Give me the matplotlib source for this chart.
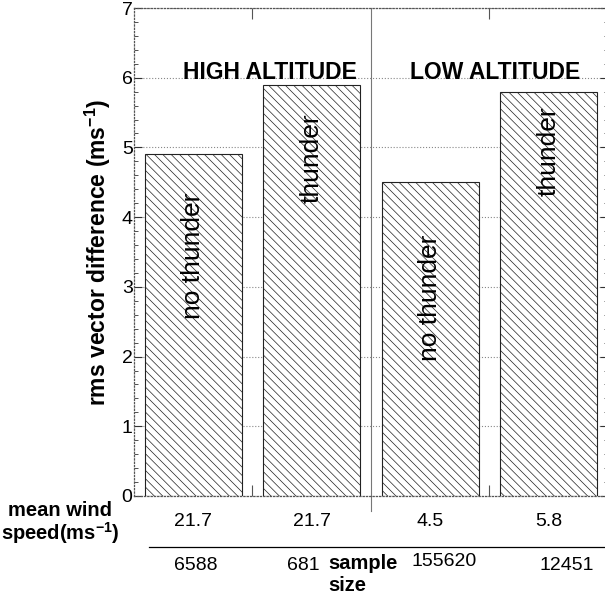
import matplotlib
matplotlib.use("Agg")
import matplotlib.pyplot as plt
from matplotlib.ticker import MultipleLocator

plt.rcParams['font.family'] = ['Liberation Sans', 'DejaVu Sans']
plt.rcParams['hatch.color'] = '#8a8a8a'
plt.rcParams['hatch.linewidth'] = 0.5

# data
bar_pos = [0.5, 1.5, 2.5, 3.5]
rms_diff = [4.9, 5.9, 4.5, 5.8]
bar_labels = ['no thunder', 'thunder', 'no thunder', 'thunder']
label_y = [3.45, 4.85, 2.85, 4.95]
wind_speed = ['21.7', '21.7', '4.5', '5.8']
sample_size = ['6588', '681', '155620', '12451']
groups = ['HIGH ALTITUDE', 'LOW ALTITUDE']

fig = plt.figure(figsize=(6.05, 5.94), dpi=100)
ax = fig.add_axes([0.2215, 0.165, 0.783, 0.8215])

ax.bar(bar_pos, rms_diff, width=0.82, color='white', edgecolor='#222222',
       linewidth=0.8, hatch='\\\\\\\\', zorder=2)

for x, lab, y in zip(bar_pos, bar_labels, label_y):
    ax.text(x, y, lab, rotation=90, ha='center', va='center', fontsize=19, zorder=3)

ax.text(1.15, 6.08, groups[0], ha='center', va='center', fontsize=16.5, fontweight='bold')
ax.text(3.05, 6.08, groups[1], ha='center', va='center', fontsize=16.5, fontweight='bold')

ax.set_xlim(0, 4)
ax.set_ylim(0, 7)
ax.yaxis.set_major_locator(MultipleLocator(1))
ax.yaxis.set_minor_locator(MultipleLocator(0.2))
ax.set_xticks([1, 3])
ax.set_xticklabels([])
ax.tick_params(axis='y', which='both', direction='in', labelsize=14, pad=1,
               color='#333333', right=True)
ax.tick_params(axis='y', which='major', length=6)
ax.tick_params(axis='y', which='minor', length=3)
ax.tick_params(axis='x', direction='in', top=True, length=8, color='#555555')
ax.grid(axis='y', linestyle=':', color='#888888', linewidth=0.8, zorder=0)
for s in ax.spines.values():
    s.set_linestyle(':')
    s.set_color('#555555')
    s.set_linewidth(0.9)
ax.axvline(2.0, ymin=-0.03, ymax=1, color='#777777', linewidth=0.8, clip_on=False, zorder=1)

ax.set_ylabel('rms vector difference (ms$^{\\mathregular{-1}}$)', fontsize=16.5,
              fontweight='bold', labelpad=6)

# table under the axis
tr = ax.get_xaxis_transform()
for x, w in zip(bar_pos, wind_speed):
    ax.text(x, -0.052, w, transform=tr, ha='center', va='center', fontsize=14)
for x, n, dy in zip([0.52, 1.43, 2.62, 3.65], sample_size, [0, 0, 0.008, 0]):
    ax.text(x, -0.143 + dy, n, transform=tr, ha='center', va='center', fontsize=14)
ax.plot([0.13, 4.0], [-0.104, -0.104], transform=tr, color='black', linewidth=0.9,
        clip_on=False)

fig.text(0.10, 0.118, 'mean wind\nspeed(ms$^{\\mathregular{-1}}$)', ha='center', va='center',
         fontsize=14.5, fontweight='bold', linespacing=1.0)
fig.text(0.543, 0.033, 'sample\nsize', ha='left', va='center', fontsize=14.5,
         fontweight='bold', linespacing=1.15)

fig.savefig('out.png', dpi=100)
